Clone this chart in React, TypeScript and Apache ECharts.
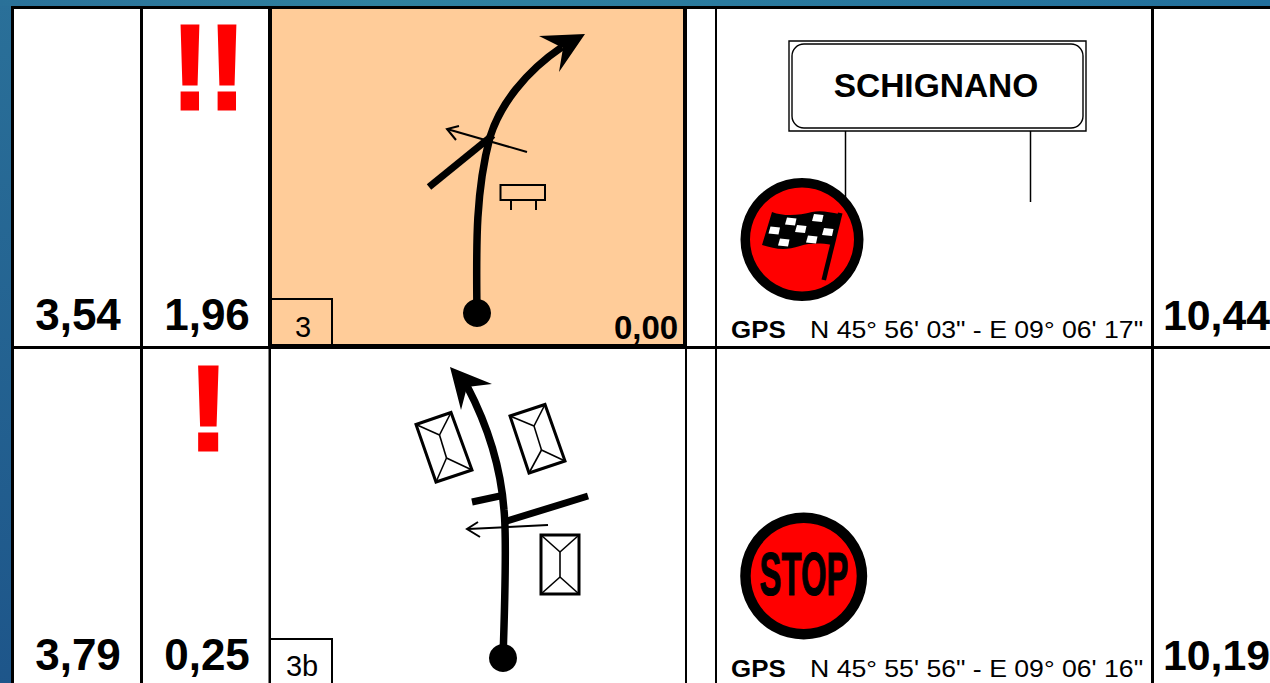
import React, { useEffect, useRef } from "react";
import * as echarts from "echarts";

const FONT = "'Liberation Sans', Arial, sans-serif";

const legDistances = ["3,54", "3,79"];
const partialDistances = ["1,96", "0,25"];
const totalDistances = ["10,44", "10,19"];
const warnings = ["!!", "!"];
const noteNumbers = ["3", "3b"];
const gpsLabels = [`N 45° 56' 03" - E 09° 06' 17"`, `N 45° 55' 56" - E 09° 06' 16"`];
const placeName = "SCHIGNANO";
const startValue = "0,00";
const stopWord = "STOP";

const SHAPES: Record<string, string> = {
  rbRoadTop: "M477 313 C476 240 476 190 490 137 C500 105 525 72 562 47",
  rbRoadBottom: "M503 658 C505 600 507 540 504 510 C501 470 490 430 467 386",
  rbFlag:
    "M772 212 C785 217 800 215 812 212 C820 210 830 212 839 214 L832 245 C820 243 810 243 800 246 C785 251 775 249 762 245 Z",
};
Object.entries(SHAPES).forEach(([name, d]) => {
  echarts.graphic.registerShape(name, echarts.graphic.extendPath(d, {}));
});

const bar = (x: number, y: number, w: number, h: number, fill = "#000") => ({
  type: "rect",
  shape: { x, y, width: w, height: h },
  style: { fill },
});
const seg = (x1: number, y1: number, x2: number, y2: number, lineWidth: number) => ({
  type: "line",
  shape: { x1, y1, x2, y2 },
  style: { stroke: "#000", lineWidth },
});
const poly = (points: number[][], fill: string) => ({
  type: "polygon",
  shape: { points },
  style: { fill },
});
const open = (points: number[][], lineWidth: number) => ({
  type: "polyline",
  shape: { points },
  style: { stroke: "#000", lineWidth, fill: "none" },
});
const label = (
  text: string,
  x: number,
  baseline: number,
  size: number,
  weight: string,
  align = "center",
  fill = "#000",
  extra: any = {},
  styleExtra: any = {}
) => ({
  type: "text",
  x,
  y: baseline - 0.9 * size,
  ...extra,
  style: {
    text,
    fontFamily: FONT,
    fontSize: size,
    fontWeight: weight,
    fill,
    align,
    verticalAlign: "top",
    ...styleExtra,
  },
});

const building = (c: number[][], a: number[], b: number[]) => [
  { type: "polygon", shape: { points: c }, style: { fill: "#fff", stroke: "#000", lineWidth: 3 } },
  seg(a[0], a[1], b[0], b[1], 1.6),
  seg(c[0][0], c[0][1], a[0], a[1], 1.6),
  seg(c[1][0], c[1][1], a[0], a[1], 1.6),
  seg(c[2][0], c[2][1], b[0], b[1], 1.6),
  seg(c[3][0], c[3][1], b[0], b[1], 1.6),
];

function buildElements(): any[] {
  const els: any[] = [];
  // page background
  els.push({
    type: "rect",
    shape: { x: 0, y: 0, width: 1270, height: 683 },
    style: {
      fill: new echarts.graphic.LinearGradient(0, 0, 0.25, 1, [
        { offset: 0, color: "#2a7099" },
        { offset: 1, color: "#1d5489" },
      ]),
    },
  });
  els.push({
    type: "rect",
    shape: { x: 0, y: 0, width: 1270, height: 6 },
    style: {
      fill: new echarts.graphic.LinearGradient(0, 0, 1, 0, [
        { offset: 0, color: "#2a7199" },
        { offset: 0.3, color: "#2f819f" },
        { offset: 1, color: "#226f9c" },
      ]),
    },
  });
  // sheet
  els.push(bar(11, 6, 1259, 677, "#000"));
  els.push(bar(14, 9, 1256, 674, "#fff"));
  // orange cell
  els.push(bar(268, 8, 419, 341, "#000"));
  els.push(bar(272, 9, 411, 335, "#ffcc99"));
  // grid lines
  els.push(bar(140, 8, 3, 675));
  els.push(bar(268.5, 345, 2.5, 338));
  els.push(bar(685, 345, 2, 338));
  els.push(bar(715, 8, 2, 675));
  els.push(bar(1151, 8, 3, 675));
  els.push(bar(14, 346, 1256, 3));

  // number boxes
  els.push(bar(272, 298, 61, 2));
  els.push(bar(331, 298, 2, 47));
  els.push(bar(271, 638, 62, 2));
  els.push(bar(331, 638, 2, 45));

  // distance texts
  const baselines = [332, 672];
  baselines.forEach((y, i) => {
    els.push(label(legDistances[i], 78, y, 44, "bold"));
    els.push(label(partialDistances[i], 207, y, 44, "bold"));
    els.push(label(totalDistances[i], 1163, y, 42.8, "bold", "left"));
  });
  const warnStyle = { stroke: "#ff0000", lineWidth: 3 };
  els.push(label(warnings[0], 208.5, 116, 121, "bold", "center", "#ff0000", { scaleX: 0.92 }, warnStyle));
  els.push(label(warnings[1], 208.5, 456, 121, "bold", "center", "#ff0000", {}, warnStyle));
  els.push(label(noteNumbers[0], 303, 339, 29, "normal"));
  els.push(label(noteNumbers[1], 302, 678, 29, "normal"));
  els.push(label(startValue, 646, 341, 33, "bold"));

  // top tulip
  els.push({ type: "rbRoadTop", style: { fill: "none", stroke: "#000", lineWidth: 7.5 } });
  els.push(poly([[585, 34], [539, 36], [563, 48], [559, 72]], "#000"));
  els.push(seg(429, 187, 493, 135, 7));
  els.push(seg(527, 152, 447, 129, 2));
  els.push(open([[459, 126], [447, 129], [456, 140]], 2));
  els.push(open([[511, 210], [511, 200]], 2));
  els.push(open([[536, 210], [536, 200]], 2));
  els.push({
    type: "rect",
    shape: { x: 500.5, y: 185, width: 44.5, height: 15 },
    style: { fill: "none", stroke: "#000", lineWidth: 2 },
  });
  els.push({ type: "circle", shape: { cx: 477, cy: 313, r: 14 }, style: { fill: "#000" } });

  // bottom tulip
  els.push(...building([[416, 424.5], [451, 412.5], [472, 470], [436, 482]], [439.5, 435], [446.5, 458]));
  els.push(...building([[510, 416], [545, 404.5], [565, 461], [529, 473]], [534, 426], [541.5, 450]));
  els.push(...building([[541, 535], [579, 535], [579, 594], [541, 594]], [560, 552], [560, 577]));
  els.push(seg(507, 521, 588, 496, 7));
  els.push(seg(472, 502, 500, 496, 7));
  els.push({ type: "rbRoadBottom", style: { fill: "none", stroke: "#000", lineWidth: 7.5 } });
  els.push(poly([[450, 367], [492, 384], [467, 387], [461, 410]], "#000"));
  els.push(seg(548, 525, 468, 529, 2));
  els.push(open([[478, 522], [467, 529], [480, 537]], 2));
  els.push({ type: "circle", shape: { cx: 503, cy: 658, r: 14 }, style: { fill: "#000" } });

  // town sign
  els.push({
    type: "rect",
    shape: { x: 789, y: 41, width: 297, height: 90 },
    style: { fill: "#fff", stroke: "#000", lineWidth: 1.4 },
  });
  els.push({
    type: "rect",
    shape: { x: 792, y: 44, width: 291, height: 84, r: 12 },
    style: { fill: "#fff", stroke: "#000", lineWidth: 1.4 },
  });
  els.push(seg(845.5, 131, 845.5, 202, 1.5));
  els.push(seg(1030.5, 131, 1030.5, 202, 1.5));
  els.push(label(placeName, 936, 99, 33.5, "bold"));

  // finish flag
  els.push({ type: "circle", shape: { cx: 802, cy: 239.5, r: 61.5 }, style: { fill: "#000" } });
  els.push({ type: "circle", shape: { cx: 802, cy: 239.5, r: 52 }, style: { fill: "#ff0000" } });
  els.push({ type: "rbFlag", style: { fill: "#000" } });
  els.push(poly([[838, 212.5], [842.5, 213.5], [826, 280.5], [821.5, 279.5]], "#000"));
  [
    [785, 217.5], [812, 214], [768.5, 226.5], [795, 225], [822, 228], [778, 238.5], [806, 235.5],
  ].forEach(([x, y]) => {
    els.push(poly([[x + 2, y], [x + 11.5, y + 1], [x + 10, y + 8], [x, y + 7]], "#fff"));
  });

  // stop sign
  els.push({ type: "circle", shape: { cx: 803.7, cy: 576, r: 63.5 }, style: { fill: "#000" } });
  els.push({ type: "circle", shape: { cx: 803.7, cy: 576, r: 53 }, style: { fill: "#ff0000" } });
  els.push(
    label(stopWord, 804, 599, 62, "bold", "center", "#000", { scaleX: 0.53 }, { stroke: "#000", lineWidth: 1.2 })
  );

  // gps
  [339, 678].forEach((y, i) => {
    els.push(label("GPS", 731, y, 24, "bold", "left", "#000", { scaleX: 1.08 }));
    els.push(label(gpsLabels[i], 810, y, 24, "normal", "left", "#000", { scaleX: 1.11 }));
  });
  return els;
}

export default function App() {
  const ref = useRef<HTMLDivElement>(null);
  useEffect(() => {
    document.body.style.margin = "0";
    const chart = echarts.init(ref.current!, null, { renderer: "svg" });
    chart.setOption({ animation: false, graphic: { elements: buildElements() } });
    return () => chart.dispose();
  }, []);
  return <div ref={ref} style={{ width: 1270, height: 683 }} />;
}
